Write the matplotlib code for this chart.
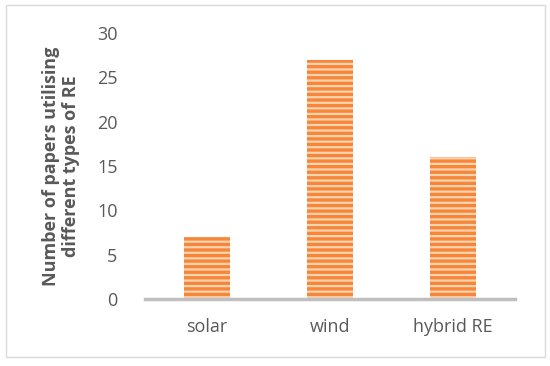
import matplotlib
matplotlib.use('Agg')
import matplotlib.pyplot as plt
from matplotlib.patches import Rectangle

# data
categories = ['solar', 'wind', 'hybrid RE']
papers = [7, 27, 16]
yticks = [0, 5, 10, 15, 20, 25, 30]

plt.rcParams['font.family'] = ['Open Sans', 'DejaVu Sans']
plt.rcParams['hatch.linewidth'] = 1.6

fig = plt.figure(figsize=(5.5, 3.66), dpi=100)
ax = fig.add_axes([0.264, 0.183, 0.672, 0.727])

bars = ax.bar(categories, papers, width=0.37, color='#F5863A',
              edgecolor='#FDD3B0', linewidth=0, hatch='---')
for b in bars:
    b.set_edgecolor('#FDD3B0')

ax.set_ylim(0, 30)
ax.set_xlim(-0.5, 2.5)
ax.set_yticks(yticks)
for s in ['top', 'right', 'left']:
    ax.spines[s].set_visible(False)
ax.spines['bottom'].set_color('#BFBFBF')
ax.spines['bottom'].set_linewidth(2.5)
ax.tick_params(axis='both', length=0, labelsize=13, colors='#595959')
ax.tick_params(axis='y', pad=20)
ax.tick_params(axis='x', pad=14)

ax.set_ylabel('Number of papers utilising\ndifferent types of RE', fontsize=13,
              fontweight='bold', color='#595959', labelpad=12, linespacing=1.15)

# outer chart border
fig.patches.append(Rectangle((0.01, 0.025), 0.98, 0.96, transform=fig.transFigure,
                             fill=False, edgecolor='#D9D9D9', linewidth=1))

fig.savefig('out.png', dpi=100)
